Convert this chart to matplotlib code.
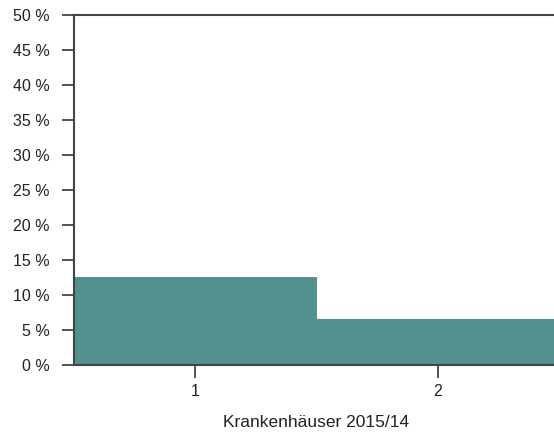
import matplotlib.pyplot as plt
import numpy as np

categories = [1, 2]
shares = [12.6, 6.6]
y_ticks = [0, 5, 10, 15, 20, 25, 30, 35, 40, 45, 50]

plt.rcParams["font.family"] = ["Liberation Sans", "DejaVu Sans"]

fig = plt.figure(figsize=(5.54, 4.4), dpi=100)
# the plot area runs a little past the right edge of the picture
ax = fig.add_axes([73.5 / 554, 75 / 440, 486 / 554, 350 / 440])

ax.bar(categories, shares, width=1.0, color="#52918e", edgecolor="none")

ax.set_xlim(0.5, 2.5)
ax.set_ylim(0, 50)
ax.set_xticks(categories)
ax.set_xticklabels([str(c) for c in categories])
ax.set_yticks(y_ticks)
ax.set_yticklabels([f"{t} %" for t in y_ticks])
ax.tick_params(axis="both", colors="#444444", labelcolor="#222222",
               length=9, width=1.3, labelsize=11.5)
ax.tick_params(axis="x", pad=5)
ax.tick_params(axis="y", pad=8)

for side in ["left", "top", "bottom"]:
    ax.spines[side].set_color("#444444")
    ax.spines[side].set_linewidth(1.5)
ax.spines["right"].set_visible(False)

ax.set_xlabel("Krankenhäuser 2015/14", fontsize=12.5, color="#222222", labelpad=11)

fig.savefig("out.png", dpi=100)
